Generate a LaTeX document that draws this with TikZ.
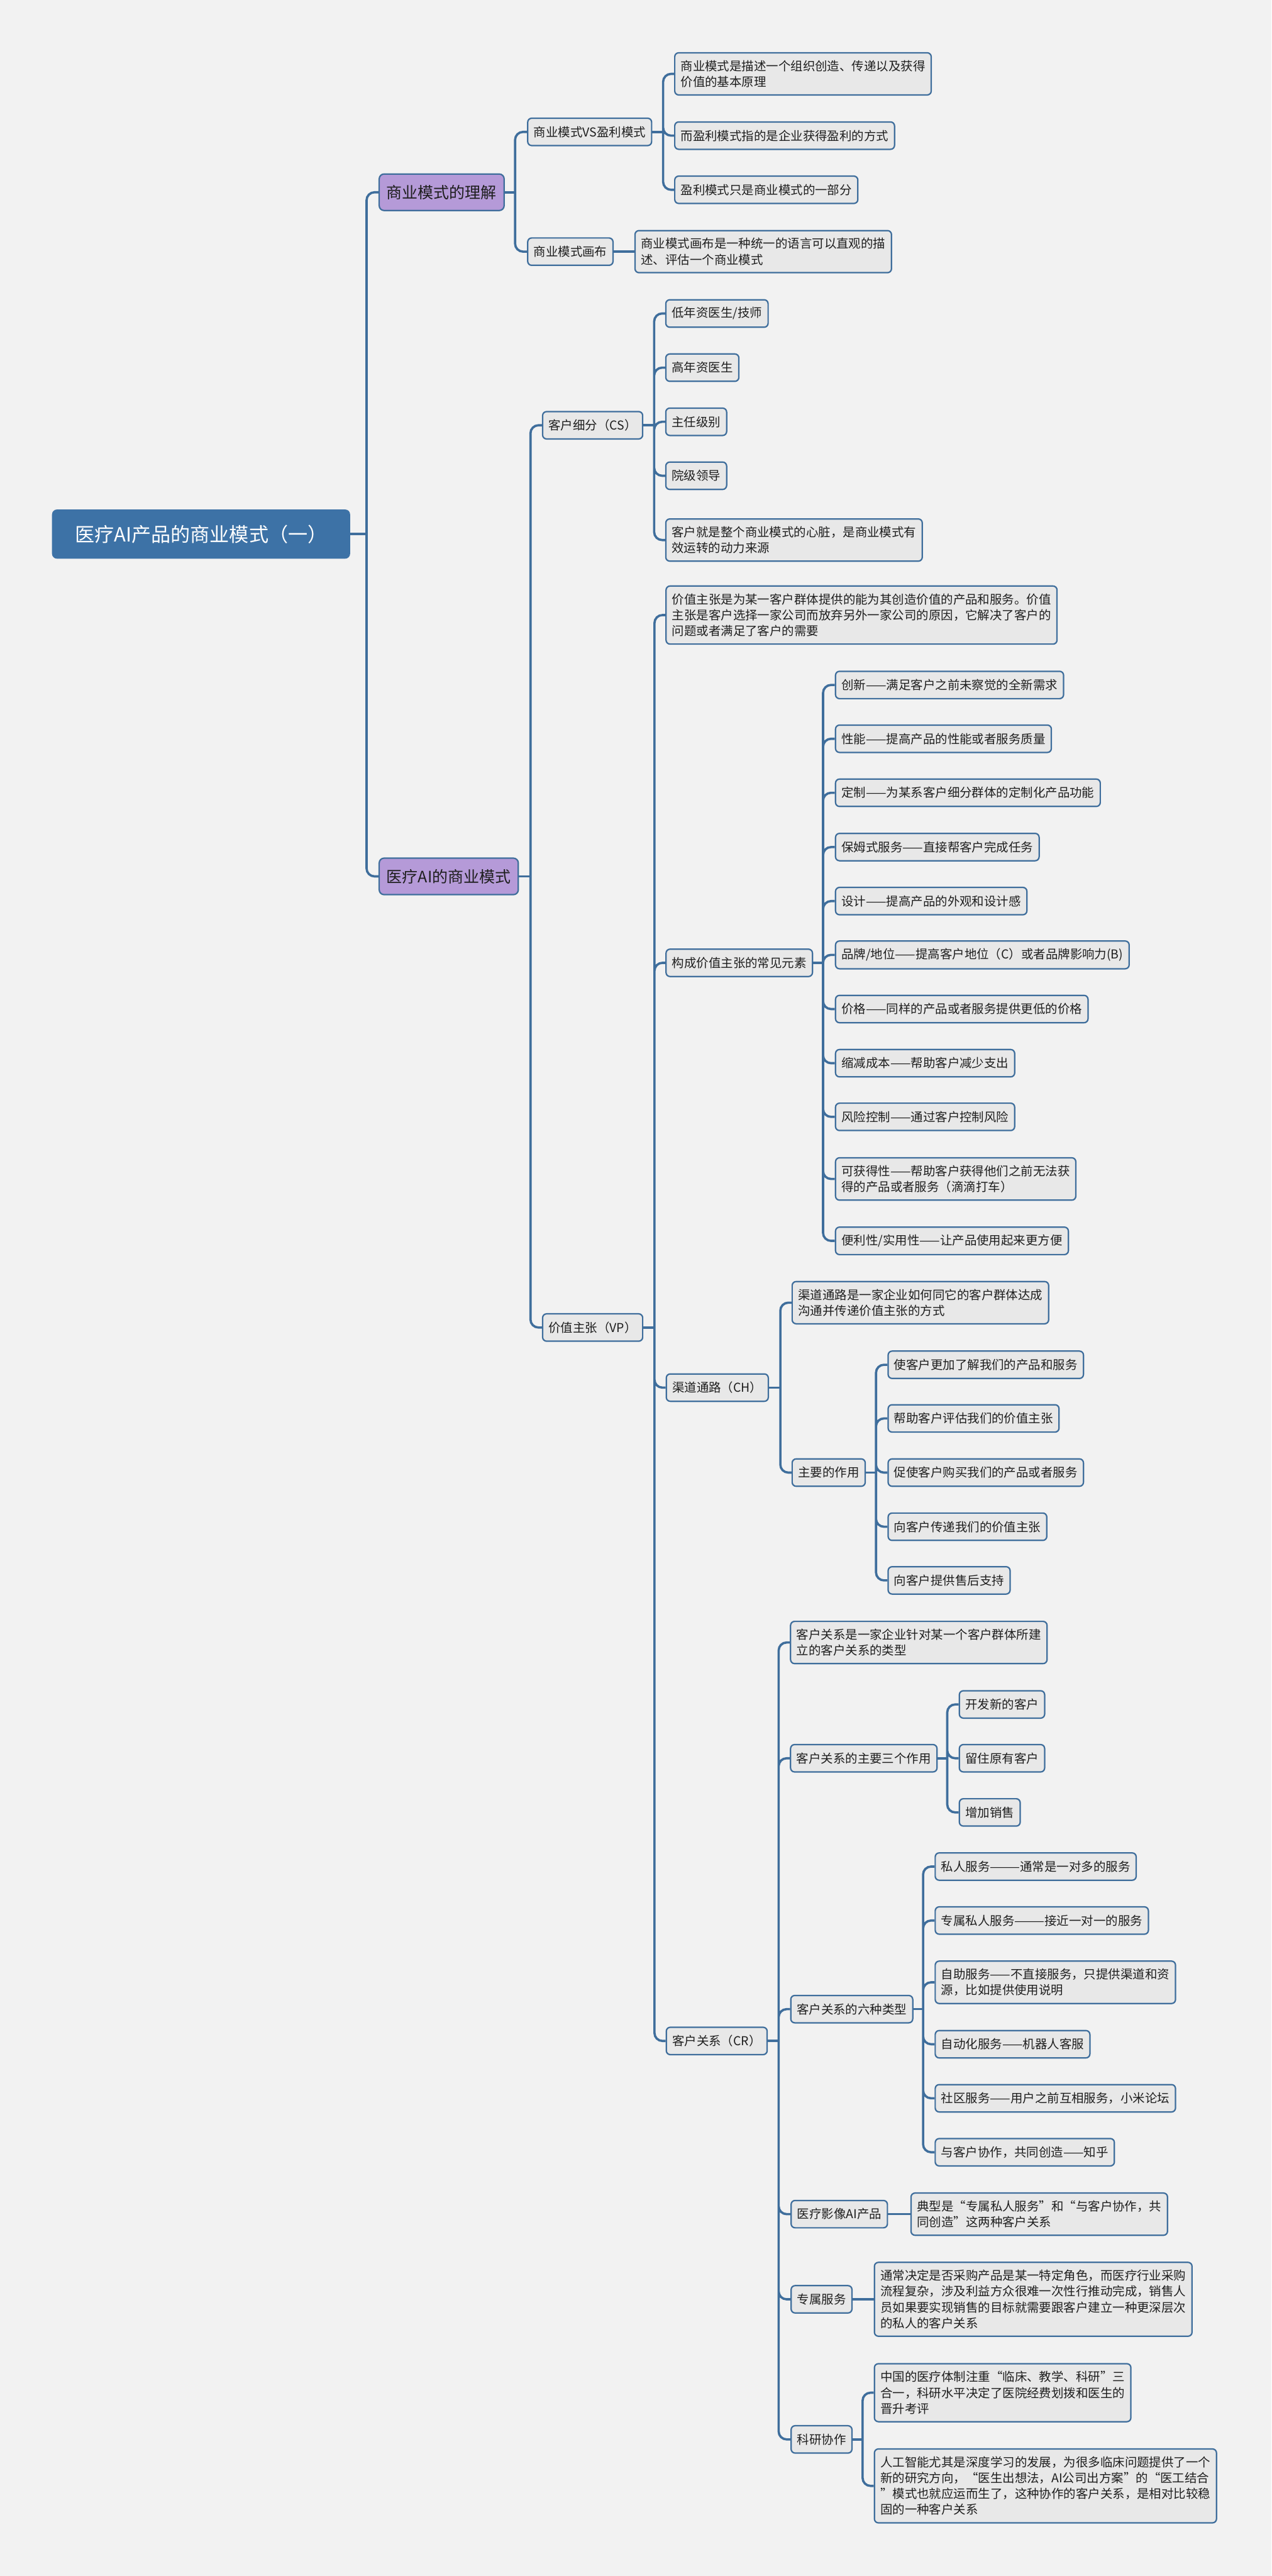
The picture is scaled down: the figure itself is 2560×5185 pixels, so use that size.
\documentclass[tikz,border=0pt]{standalone}
\usepackage{fontspec}
\newfontfamily\cjk{Noto Sans CJK SC}
\newcommand{\smallcjk}{\cjk\fontsize{7}{9.07}\selectfont}
\newcommand{\topiccjk}{\cjk\fontsize{9}{11}\selectfont}
\newcommand{\rootcjk}{\cjk\fontsize{11.2}{13}\selectfont}

\definecolor{bgcol}{HTML}{F2F2F2}
\definecolor{linecol}{HTML}{3F6E9C}
\definecolor{boxfill}{HTML}{E8E8E8}
\definecolor{topicfill}{HTML}{B59AD8}
\definecolor{rootfill}{HTML}{3D72A6}
\definecolor{textcol}{HTML}{1E1E1E}

\tikzset{
  mapline/.style={draw=linecol, line width=1.3pt, rounded corners=0.16cm},
  leafbox/.style={draw=linecol, line width=0.8pt, fill=boxfill, rounded corners=0.08cm,
    font=\smallcjk, text=textcol, align=left, inner xsep=0.12cm, inner ysep=0.15cm,
    minimum height=0.55cm, anchor=west},
  topicbox/.style={leafbox, fill=topicfill, font=\topiccjk, inner xsep=0.15cm,
    minimum height=0.735cm, rounded corners=0.1cm},
  rootbox/.style={fill=rootfill, text=white, font=\rootcjk, rounded corners=0.1cm,
    inner xsep=0.46cm, minimum height=0.99cm, anchor=west}
}

\begin{document}
\begin{tikzpicture}[x=0.01cm, y=-0.01cm]

\fill[bgcol] (0,0) rectangle (2560,5185);
\useasboundingbox (0,0) rectangle (2560,5185);

% root and first level
\node[rootbox] (root) at (104,1075) {医疗AI产品的商业模式（一）};
\node[topicbox] (und) at (762,387) {商业模式的理解};
\node[topicbox] (aim) at (762,1764) {医疗AI的商业模式};

% 商业模式的理解
\node[leafbox] (vs) at (1061,265.5) {商业模式VS盈利模式};
\node[leafbox] (canvas) at (1061,506.5) {商业模式画布};
\node[leafbox] (vs1) at (1357,148.7) {商业模式是描述一个组织创造、传递以及获得\\价值的基本原理};
\node[leafbox] (vs2) at (1357,273) {而盈利模式指的是企业获得盈利的方式};
\node[leafbox] (vs3) at (1357,382) {盈利模式只是商业模式的一部分};
\node[leafbox] (canvas1) at (1277,506.5) {商业模式画布是一种统一的语言可以直观的描\\述、评估一个商业模式};

% 客户细分
\node[leafbox] (cs) at (1091,856) {客户细分（CS）};
\node[leafbox] (cs1) at (1339,631) {低年资医生/技师};
\node[leafbox] (cs2) at (1339,740) {高年资医生};
\node[leafbox] (cs3) at (1339,849) {主任级别};
\node[leafbox] (cs4) at (1339,957.6) {院级领导};
\node[leafbox] (cs5) at (1339,1087) {客户就是整个商业模式的心脏，是商业模式有\\效运转的动力来源};

% 价值主张
\node[leafbox] (vp) at (1091,2672) {价值主张（VP）};
\node[leafbox] (vp1) at (1339.5,1238) {价值主张是为某一客户群体提供的能为其创造价值的产品和服务。价值\\主张是客户选择一家公司而放弃另外一家公司的原因，它解决了客户的\\问题或者满足了客户的需要};
\node[leafbox] (elem) at (1339.5,1938) {构成价值主张的常见元素};
\node[leafbox] (el1) at (1680.7,1378.7) {创新——满足客户之前未察觉的全新需求};
\node[leafbox] (el2) at (1680.7,1487) {性能——提高产品的性能或者服务质量};
\node[leafbox] (el3) at (1680.7,1595.7) {定制——为某系客户细分群体的定制化产品功能};
\node[leafbox] (el4) at (1680.7,1705) {保姆式服务——直接帮客户完成任务};
\node[leafbox] (el5) at (1680.7,1813.7) {设计——提高产品的外观和设计感};
\node[leafbox] (el6) at (1680.7,1922) {品牌/地位——提高客户地位（C）或者品牌影响力(B)};
\node[leafbox] (el7) at (1680.7,2031) {价格——同样的产品或者服务提供更低的价格};
\node[leafbox] (el8) at (1680.7,2140) {缩减成本——帮助客户减少支出};
\node[leafbox] (el9) at (1680.7,2248) {风险控制——通过客户控制风险};
\node[leafbox] (el10) at (1680.7,2373) {可获得性——帮助客户获得他们之前无法获\\得的产品或者服务（滴滴打车）};
\node[leafbox] (el11) at (1680.7,2497.6) {便利性/实用性——让产品使用起来更方便};

% 渠道通路
\node[leafbox] (ch) at (1340,2793) {渠道通路（CH）};
\node[leafbox] (ch1) at (1593.4,2622) {渠道通路是一家企业如何同它的客户群体达成\\沟通并传递价值主张的方式};
\node[leafbox] (use) at (1593.4,2964) {主要的作用};
\node[leafbox] (use1) at (1786.6,2747) {使客户更加了解我们的产品和服务};
\node[leafbox] (use2) at (1786.6,2855) {帮助客户评估我们的价值主张};
\node[leafbox] (use3) at (1786.6,2964) {促使客户购买我们的产品或者服务};
\node[leafbox] (use4) at (1786.6,3073) {向客户传递我们的价值主张};
\node[leafbox] (use5) at (1786.6,3181) {向客户提供售后支持};

% 客户关系
\node[leafbox] (cr) at (1340,4108) {客户关系（CR）};
\node[leafbox] (cr1) at (1590.2,3306) {客户关系是一家企业针对某一个客户群体所建\\立的客户关系的类型};
\node[leafbox] (role) at (1590.2,3539) {客户关系的主要三个作用};
\node[leafbox] (role1) at (1930,3430.7) {开发新的客户};
\node[leafbox] (role2) at (1930,3539) {留住原有客户};
\node[leafbox] (role3) at (1930,3648) {增加销售};
\node[leafbox] (type) at (1590.6,4044) {客户关系的六种类型};
\node[leafbox] (type1) at (1881.4,3757) {私人服务———通常是一对多的服务};
\node[leafbox] (type2) at (1881.4,3865.6) {专属私人服务———接近一对一的服务};
\node[leafbox] (type3) at (1881.4,3990) {自助服务——不直接服务，只提供渠道和资\\源，比如提供使用说明};
\node[leafbox] (type4) at (1881.4,4114.6) {自动化服务——机器人客服};
\node[leafbox] (type5) at (1881.4,4223.4) {社区服务——用户之前互相服务，小米论坛};
\node[leafbox] (type6) at (1881.4,4332) {与客户协作，共同创造——知乎};
\node[leafbox] (img) at (1591.3,4456.6) {医疗影像AI产品};
\node[leafbox] (img1) at (1832.7,4456.6) {典型是“专属私人服务”和“与客户协作，共\\同创造”这两种客户关系};
\node[leafbox] (excl) at (1591.3,4628) {专属服务};
\node[leafbox] (excl1) at (1759,4628) {通常决定是否采购产品是某一特定角色，而医疗行业采购\\流程复杂，涉及利益方众很难一次性行推动完成，销售人\\员如果要实现销售的目标就需要跟客户建立一种更深层次\\的私人的客户关系};
\node[leafbox] (res) at (1591.3,4910) {科研协作};
\node[leafbox] (res1) at (1759,4816) {中国的医疗体制注重“临床、教学、科研”三\\合一，科研水平决定了医院经费划拨和医生的\\晋升考评};
\node[leafbox] (res2) at (1759,5003.6) {人工智能尤其是深度学习的发展，为很多临床问题提供了一个\\新的研究方向，“医生出想法，AI公司出方案”的“医工结合\\”模式也就应运而生了，这种协作的客户关系，是相对比较稳\\固的一种客户关系};

% spines
\coordinate (rootJ) at (738,1075);
\coordinate (undJ) at (1037,387);
\coordinate (vsJ) at (1335,265.5);
\coordinate (aimJ) at (1068,1764);
\coordinate (csJ) at (1317,856);
\coordinate (vpJ) at (1317.6,2672);
\coordinate (elemJ) at (1657,1938);
\coordinate (chJ) at (1571,2793);
\coordinate (useJ) at (1763.6,2964);
\coordinate (crJ) at (1567.6,4108);
\coordinate (roleJ) at (1907,3539);
\coordinate (typeJ) at (1858.4,4044);
\coordinate (resJ) at (1736.6,4910);

\draw[mapline] (root.east) -- (rootJ);
\draw[mapline] (rootJ) |- (und.west) (rootJ) |- (aim.west);

\draw[mapline] (und.east) -- (undJ);
\draw[mapline] (undJ) |- (vs.west) (undJ) |- (canvas.west);
\draw[mapline] (vs.east) -- (vsJ);
\draw[mapline] (vsJ) |- (vs1.west) (vsJ) |- (vs2.west) (vsJ) |- (vs3.west);
\draw[mapline] (canvas.east) -- (canvas1.west);

\draw[mapline] (aim.east) -- (aimJ);
\draw[mapline] (aimJ) |- (cs.west) (aimJ) |- (vp.west);
\draw[mapline] (cs.east) -- (csJ);
\draw[mapline] (csJ) |- (cs1.west) (csJ) |- (cs2.west) (csJ) |- (cs3.west)
  (csJ) |- (cs4.west) (csJ) |- (cs5.west);

\draw[mapline] (vp.east) -- (vpJ);
\draw[mapline] (vpJ) |- (vp1.west) (vpJ) |- (elem.west) (vpJ) |- (ch.west) (vpJ) |- (cr.west);
\draw[mapline] (elem.east) -- (elemJ);
\draw[mapline] (elemJ) |- (el1.west) (elemJ) |- (el2.west) (elemJ) |- (el3.west)
  (elemJ) |- (el4.west) (elemJ) |- (el5.west) (elemJ) |- (el6.west)
  (elemJ) |- (el7.west) (elemJ) |- (el8.west) (elemJ) |- (el9.west)
  (elemJ) |- (el10.west) (elemJ) |- (el11.west);

\draw[mapline] (ch.east) -- (chJ);
\draw[mapline] (chJ) |- (ch1.west) (chJ) |- (use.west);
\draw[mapline] (use.east) -- (useJ);
\draw[mapline] (useJ) |- (use1.west) (useJ) |- (use2.west) (useJ) |- (use3.west)
  (useJ) |- (use4.west) (useJ) |- (use5.west);

\draw[mapline] (cr.east) -- (crJ);
\draw[mapline] (crJ) |- (cr1.west) (crJ) |- (role.west) (crJ) |- (type.west)
  (crJ) |- (img.west) (crJ) |- (excl.west) (crJ) |- (res.west);
\draw[mapline] (role.east) -- (roleJ);
\draw[mapline] (roleJ) |- (role1.west) (roleJ) |- (role2.west) (roleJ) |- (role3.west);
\draw[mapline] (type.east) -- (typeJ);
\draw[mapline] (typeJ) |- (type1.west) (typeJ) |- (type2.west) (typeJ) |- (type3.west)
  (typeJ) |- (type4.west) (typeJ) |- (type5.west) (typeJ) |- (type6.west);
\draw[mapline] (img.east) -- (img1.west);
\draw[mapline] (excl.east) -- (excl1.west);
\draw[mapline] (res.east) -- (resJ);
\draw[mapline] (resJ) |- (res1.west) (resJ) |- (res2.west);

\end{tikzpicture}
\end{document}
